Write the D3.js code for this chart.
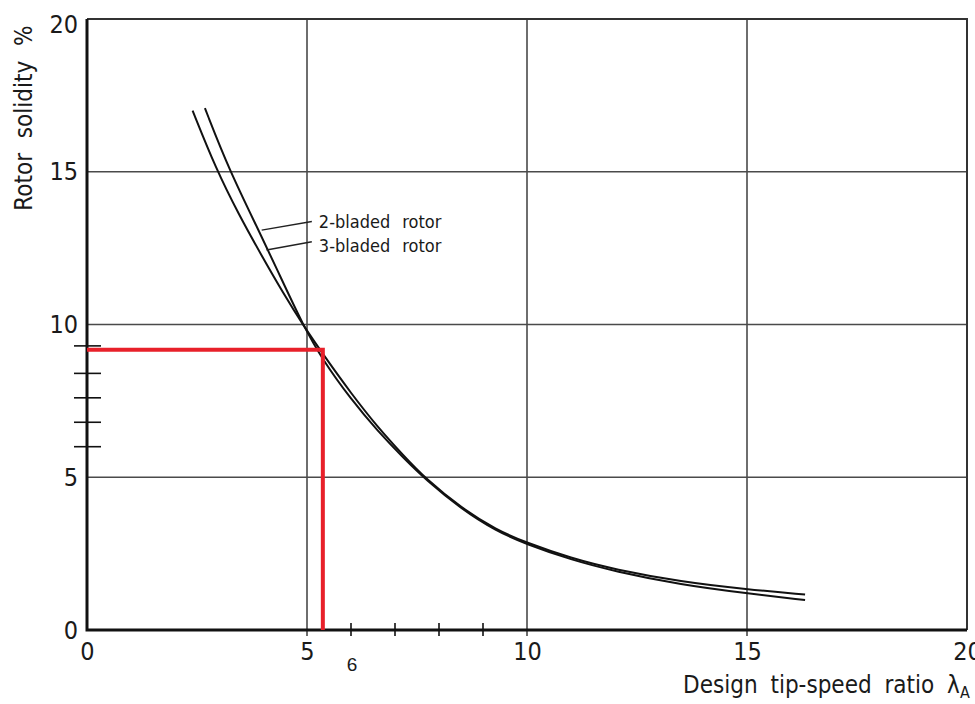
<!DOCTYPE html>
<html lang="en">
<head>
<meta charset="UTF-8">
<title>Rotor solidity vs design tip-speed ratio</title>
<script src="https://d3js.org/d3.v7.min.js"></script>
<style>
  body { margin: 0; background: #fff; }
  text { font-family: "DejaVu Sans Condensed", "DejaVu Sans", sans-serif; fill: #1a1a1a; }
</style>
</head>
<body>
<script>
// values
var xTicks = [0, 5, 10, 15, 20];
var yTicks = [0, 5, 10, 15, 20];
var xGrid = [5, 10, 15];
var yGrid = [5, 10, 15];
var xMinor = [6, 7, 8, 9];
var yMinor = [6.0, 6.8, 7.6, 8.4, 9.3];

var lambdaA = [2.40, 2.93, 3.45, 3.97, 4.45, 4.91, 5.40, 6.00, 6.60, 7.20, 7.70, 8.50, 9.30, 10.0, 11.0, 12.0, 13.5, 15.0, 16.32];
var sigmaA  = [17.0, 15.1, 13.6, 12.25, 11.05, 9.98, 8.95, 7.75, 6.65, 5.70, 4.95, 4.00, 3.28, 2.85, 2.35, 1.98, 1.58, 1.33, 1.16];
var lambdaB = [2.68, 3.23, 3.93, 4.40, 4.91, 5.35, 6.00, 6.60, 7.20, 7.70, 8.50, 9.30, 10.0, 11.0, 12.0, 13.5, 15.0, 16.32];
var sigmaB  = [17.08, 15.06, 13.0, 11.55, 9.98, 8.85, 7.55, 6.52, 5.62, 4.92, 3.97, 3.24, 2.80, 2.30, 1.92, 1.48, 1.20, 0.98];

var labels = ["2-bladed rotor", "3-bladed rotor"];
var leaders = [[[3.97, 13.09], [5.11, 13.37]], [[4.08, 12.44], [5.11, 12.71]]];
var markLambda = 5.36, markSigma = 9.17;

var width = 975, height = 704;
var svg = d3.select("body").append("svg")
    .attr("width", width)
    .attr("height", height);

var x = d3.scaleLinear().domain([0, 20]).range([87, 967]);
var y = d3.scaleLinear().domain([0, 20]).range([630, 19]);

// grid
svg.append("g").selectAll("line").data(xGrid).join("line")
    .attr("x1", d => x(d)).attr("x2", d => x(d))
    .attr("y1", y(20)).attr("y2", y(0) + 6)
    .attr("stroke", "#4a4a4a").attr("stroke-width", 1.6);
svg.append("g").selectAll("line").data(yGrid).join("line")
    .attr("x1", x(0)).attr("x2", x(20))
    .attr("y1", d => y(d)).attr("y2", d => y(d))
    .attr("stroke", "#4a4a4a").attr("stroke-width", 1.6);

// frame: thin top/right, heavy left/bottom
svg.append("path")
    .attr("d", "M" + x(0) + "," + y(20) + "H" + x(20) + "V" + y(0))
    .attr("fill", "none").attr("stroke", "#333").attr("stroke-width", 2);
svg.append("path")
    .attr("d", "M" + x(0) + "," + y(20) + "V" + y(0) + "H" + x(20))
    .attr("fill", "none").attr("stroke", "#111").attr("stroke-width", 3);

// minor ticks crossing the axes
svg.append("g").selectAll("line").data(xMinor).join("line")
    .attr("x1", d => x(d)).attr("x2", d => x(d))
    .attr("y1", y(0) - 7).attr("y2", y(0) + 6)
    .attr("stroke", "#111").attr("stroke-width", 1.6);
svg.append("g").selectAll("line").data(yMinor).join("line")
    .attr("x1", x(0) - 13).attr("x2", x(0) + 14)
    .attr("y1", d => y(d)).attr("y2", d => y(d))
    .attr("stroke", "#111").attr("stroke-width", 1.6);

// tick labels through d3 axes
var xAxis = svg.append("g")
    .attr("transform", "translate(0," + y(0) + ")")
    .call(d3.axisBottom(x).tickValues(xTicks).tickSize(0).tickPadding(12).tickFormat(d3.format("d")));
var yAxis = svg.append("g")
    .attr("transform", "translate(" + x(0) + ",0)")
    .call(d3.axisLeft(y).tickValues(yTicks).tickSize(0).tickPadding(9).tickFormat(d3.format("d")));
[xAxis, yAxis].forEach(function (g) {
    g.select(".domain").remove();
    g.selectAll("text")
        .style("font-family", "'DejaVu Sans Condensed', 'DejaVu Sans', sans-serif")
        .style("font-size", "25px")
        .attr("fill", "#1a1a1a");
});
yAxis.selectAll(".tick").filter(d => d === 20).select("text").attr("dy", "0.55em");

// curves
var line = d3.line()
    .x(d => x(d[0]))
    .y(d => y(d[1]))
    .curve(d3.curveBasis);

[[lambdaA, sigmaA], [lambdaB, sigmaB]].forEach(function (s) {
    svg.append("path")
        .datum(d3.zip(s[0], s[1]))
        .attr("d", line)
        .attr("fill", "none")
        .attr("stroke", "#111")
        .attr("stroke-width", 2);
});

// leader lines and labels
leaders.forEach(function (l, i) {
    svg.append("line")
        .attr("x1", x(l[0][0])).attr("y1", y(l[0][1]))
        .attr("x2", x(l[1][0])).attr("y2", y(l[1][1]))
        .attr("stroke", "#222").attr("stroke-width", 1.4);
    svg.append("text")
        .attr("x", x(l[1][0]) + 7)
        .attr("y", y(l[1][1]) + 6 + i * 4)
        .style("font-size", "18px")
        .style("word-spacing", "7px")
        .text(labels[i]);
});

// red reading lines
svg.append("path")
    .attr("d", "M" + x(0) + "," + y(markSigma) + "H" + x(markLambda) + "V" + y(0))
    .attr("fill", "none")
    .attr("stroke", "#e8202a")
    .attr("stroke-width", 4);

svg.append("text")
    .attr("x", x(6) + 1)
    .attr("y", 671)
    .attr("text-anchor", "middle")
    .style("font-family", "'Liberation Sans', Arial, sans-serif")
    .style("font-size", "19px")
    .text("6");

// axis titles
var xt = svg.append("text")
    .attr("x", 683)
    .attr("y", 693)
    .style("font-size", "24px")
    .style("word-spacing", "6px");
xt.append("tspan").text("Design tip-speed ratio λ");
xt.append("tspan").attr("dy", 5).style("font-size", "16px").text("A");

svg.append("text")
    .attr("transform", "translate(32,118) rotate(-90)")
    .attr("text-anchor", "middle")
    .style("font-size", "24px")
    .style("word-spacing", "8px")
    .text("Rotor solidity %");
</script>
</body>
</html>
